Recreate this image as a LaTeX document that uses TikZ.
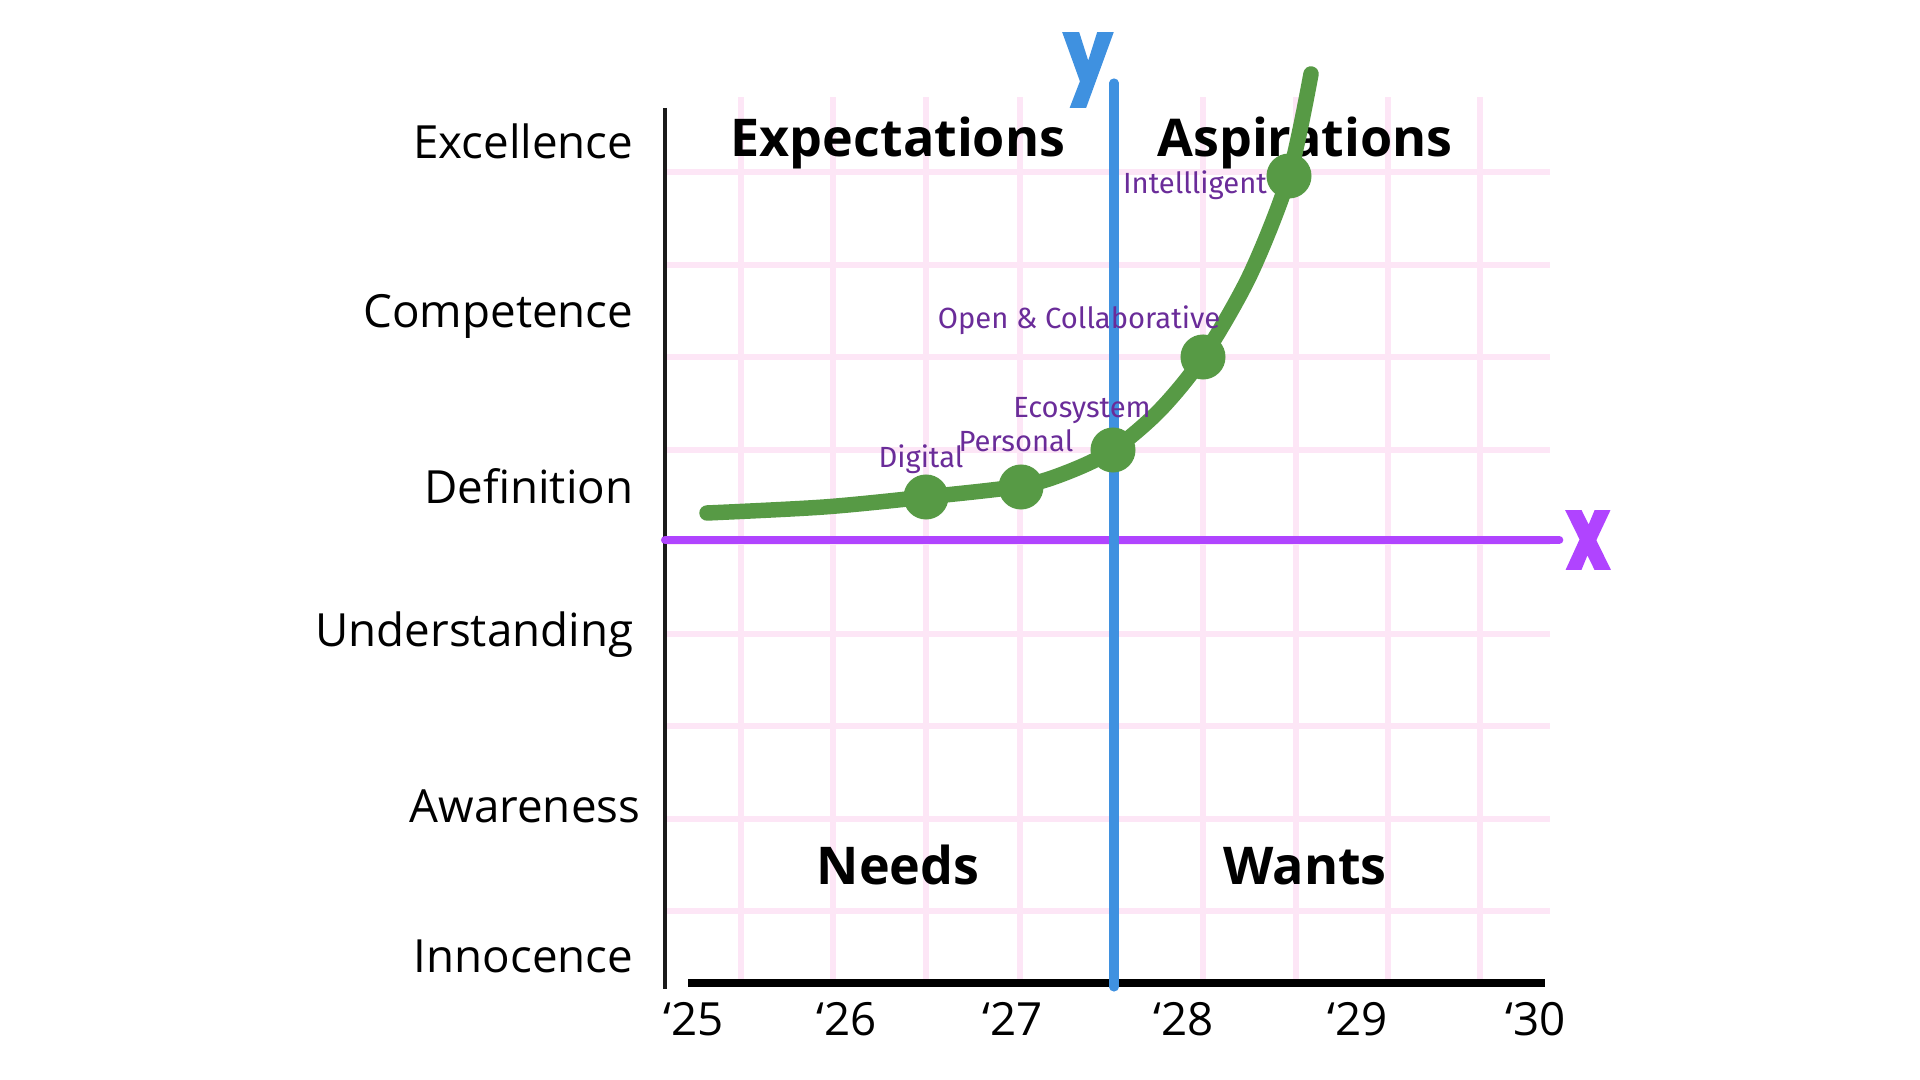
\documentclass[tikz,border=0pt]{standalone}
\usepackage{fontspec}
\setmainfont{Open Sans}
\newfontfamily\stagefont{Fira Sans}
\newfontfamily\markfont{Poppins}[FakeBold=3]
\definecolor{gridpink}{RGB}{253,230,246}
\definecolor{curvegreen}{RGB}{87,154,69}
\definecolor{axisblue}{RGB}{63,145,224}
\definecolor{axispurple}{RGB}{176,68,255}
\definecolor{labelpurple}{RGB}{106,44,153}
\definecolor{axisblack}{RGB}{26,26,26}

\tikzset{
  gridline/.style={gridpink, line width=1.7pt},
  levelname/.style={font=\fontsize{13}{15}\selectfont, anchor=base east, inner sep=0pt},
  yearlabel/.style={font=\fontsize{13}{15}\selectfont, anchor=base, inner sep=0pt},
  zonelabel/.style={font=\fontsize{14.8}{17}\selectfont\bfseries, anchor=base, inner sep=0pt},
  milestone/.style={circle, fill=curvegreen, inner sep=0pt, minimum size=0.45cm},
  stagelabel/.style={font=\stagefont\fontsize{8.3}{10}\selectfont, text=labelpurple, anchor=base, inner sep=0pt},
  axismark/.style={font=\markfont\bfseries\fontsize{24}{26}\selectfont, inner sep=0pt}
}

\begin{document}
\begin{tikzpicture}[x=0.01cm, y=-0.01cm]
\useasboundingbox (0,0) rectangle (1920,1080);

% Pink grid
\foreach \gx in {741,833,926,1020,1113,1203,1296,1388,1480}
  \draw[gridline] (\gx,97) -- (\gx,983);
\foreach \gy in {172,265,357,450,542,634,726,819,911}
  \draw[gridline] (665,\gy) -- (1550,\gy);

% Level names (left)
\node[levelname] (excellence) at (634,159) {Excellence};
\node[levelname] (competence) at (634,328) {Competence};
\node[levelname] (definition) at (634,504) {Definition};
\node[levelname] (understanding) at (634,647) {Understanding};
\node[levelname] (awareness) at (641,823) {Awareness};
\node[levelname] (innocence) at (634,973) {Innocence};

% Years (bottom)
\node[yearlabel] (y25) at (694,1036) {‘25};
\node[yearlabel] (y26) at (847,1036) {‘26};
\node[yearlabel] (y27) at (1013,1036) {‘27};
\node[yearlabel] (y28) at (1184,1036) {‘28};
\node[yearlabel] (y29) at (1358,1036) {‘29};
\node[yearlabel] (y30) at (1536,1036) {‘30};

% Quadrant names
\node[zonelabel] (expect) at (898,157) {Expectations};
\node[zonelabel] (aspire) at (1305,157) {Aspirations};
\node[zonelabel] (needs) at (898,885) {Needs};
\node[zonelabel] (wants) at (1305,885) {Wants};

% Axes
\coordinate (ltop) at (665,108);
\coordinate (lbot) at (665,989);
\coordinate (bleft) at (688,983);
\coordinate (bright) at (1545,983);
\draw[axisblack, line width=1.4pt] (ltop) -- (lbot);
\draw[black, line width=2.3pt] (bleft) -- (bright);

\node[axismark, text=axispurple, xscale=0.85, yscale=1.2] (xmark) at (1588,540) {x};
\coordinate (xstart) at (665,540);
\draw[axispurple, line width=2.3pt, line cap=round] (xstart) -- ([xshift=-2pt]xmark.west);

\node[axismark, text=axisblue, xscale=0.9, yscale=1.05] (ymark) at (1088,70) {y};
\coordinate (ybot) at (1114,987);
\coordinate (ytop) at (1114,83);
\draw[axisblue, line width=2.6pt, line cap=round] (ybot) -- (ytop);

% Growth curve with milestones
\coordinate (cstart) at (707,513);
\coordinate (cend) at (1311,74);
\node[milestone] (digital) at (926,497) {};
\node[milestone] (personal) at (1021,487) {};
\node[milestone] (ecosystem) at (1113,450) {};
\node[milestone] (opencollab) at (1203,357) {};
\node[milestone] (intelligent) at (1289,176) {};
\draw[curvegreen, line width=4.4pt, line cap=round]
  plot[smooth, tension=0.5] coordinates {(cstart) (824,507) (digital) (1021,486)
    (1068,472) (ecosystem) (1160,410) (opencollab) (1250,275) (intelligent) (cend)};

% Milestone labels
\node[stagelabel] (ldigital) at (921,468) {Digital};
\node[stagelabel] (lpersonal) at (1016,452) {Personal};
\node[stagelabel] (lecosystem) at (1082,418) {Ecosystem};
\node[stagelabel] (lopen) at (1079,329) {Open \& Collaborative};
\node[stagelabel] (lintel) at (1195,194) {Intellligent};

\end{tikzpicture}
\end{document}
